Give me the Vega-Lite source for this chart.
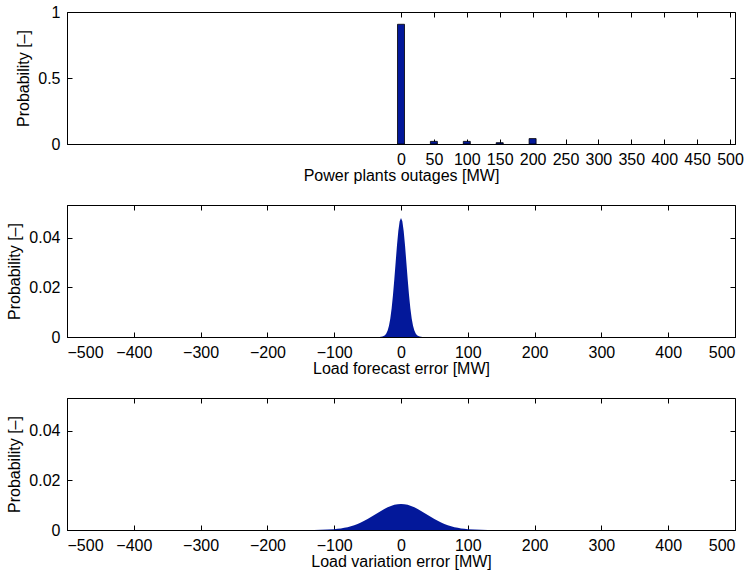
{
  "$schema": "https://vega.github.io/schema/vega-lite/v6.json",
  "padding": {"left": 6, "top": 3, "right": 8, "bottom": 5},
  "background": "white",
  "spacing": 61,
  "bounds": "flush",
  "config": {
    "font": "Liberation Sans",
    "view": {"stroke": "black", "strokeWidth": 1},
    "axis": {
      "grid": false,
      "domainColor": "black",
      "domainWidth": 1,
      "tickColor": "black",
      "tickSize": -5,
      "labelFont": "Liberation Sans",
      "labelFontSize": 16,
      "labelColor": "black",
      "labelOverlap": false,
      "titleFont": "Liberation Sans",
      "titleFontSize": 16,
      "titleFontWeight": "normal",
      "titleColor": "black",
      "labelPadding": 12,
      "titlePadding": 0
    },
    "axisLeft": {"titlePadding": 6}
  },
  "datasets": {
    "outages": [
      {"mw": 0, "p": 0.907},
      {"mw": 50, "p": 0.02},
      {"mw": 100, "p": 0.02},
      {"mw": 150, "p": 0.01},
      {"mw": 200, "p": 0.041}
    ],
    "forecast": [
      {"mw": -500, "p": 0},
      {"mw": -34, "p": 0},
      {"mw": -32, "p": 0.00003},
      {"mw": -30, "p": 0.00007},
      {"mw": -28, "p": 0.00016},
      {"mw": -26, "p": 0.00036},
      {"mw": -24, "p": 0.00073},
      {"mw": -22, "p": 0.00143},
      {"mw": -20, "p": 0.00263},
      {"mw": -18, "p": 0.00457},
      {"mw": -16, "p": 0.00749},
      {"mw": -14, "p": 0.01158},
      {"mw": -12, "p": 0.01688},
      {"mw": -10, "p": 0.02323},
      {"mw": -8, "p": 0.03017},
      {"mw": -6, "p": 0.03697},
      {"mw": -4, "p": 0.04274},
      {"mw": -2, "p": 0.04663},
      {"mw": 0, "p": 0.048},
      {"mw": 2, "p": 0.04663},
      {"mw": 4, "p": 0.04274},
      {"mw": 6, "p": 0.03697},
      {"mw": 8, "p": 0.03017},
      {"mw": 10, "p": 0.02323},
      {"mw": 12, "p": 0.01688},
      {"mw": 14, "p": 0.01158},
      {"mw": 16, "p": 0.00749},
      {"mw": 18, "p": 0.00457},
      {"mw": 20, "p": 0.00263},
      {"mw": 22, "p": 0.00143},
      {"mw": 24, "p": 0.00073},
      {"mw": 26, "p": 0.00036},
      {"mw": 28, "p": 0.00016},
      {"mw": 30, "p": 0.00007},
      {"mw": 32, "p": 0.00003},
      {"mw": 34, "p": 0},
      {"mw": 500, "p": 0}
    ],
    "variation": [
      {"mw": -500, "p": 0},
      {"mw": -150, "p": 0},
      {"mw": -130, "p": 0.00003},
      {"mw": -120, "p": 0.00007},
      {"mw": -110, "p": 0.00016},
      {"mw": -100, "p": 0.00033},
      {"mw": -95, "p": 0.00046},
      {"mw": -90, "p": 0.00064},
      {"mw": -85, "p": 0.00086},
      {"mw": -80, "p": 0.00114},
      {"mw": -75, "p": 0.0015},
      {"mw": -70, "p": 0.00192},
      {"mw": -65, "p": 0.00243},
      {"mw": -60, "p": 0.00302},
      {"mw": -55, "p": 0.00368},
      {"mw": -50, "p": 0.00442},
      {"mw": -45, "p": 0.00521},
      {"mw": -40, "p": 0.00603},
      {"mw": -35, "p": 0.00687},
      {"mw": -30, "p": 0.00769},
      {"mw": -25, "p": 0.00846},
      {"mw": -20, "p": 0.00914},
      {"mw": -15, "p": 0.00971},
      {"mw": -10, "p": 0.01014},
      {"mw": -5, "p": 0.01041},
      {"mw": 0, "p": 0.0105},
      {"mw": 5, "p": 0.01041},
      {"mw": 10, "p": 0.01014},
      {"mw": 15, "p": 0.00971},
      {"mw": 20, "p": 0.00914},
      {"mw": 25, "p": 0.00846},
      {"mw": 30, "p": 0.00769},
      {"mw": 35, "p": 0.00687},
      {"mw": 40, "p": 0.00603},
      {"mw": 45, "p": 0.00521},
      {"mw": 50, "p": 0.00442},
      {"mw": 55, "p": 0.00368},
      {"mw": 60, "p": 0.00302},
      {"mw": 65, "p": 0.00243},
      {"mw": 70, "p": 0.00192},
      {"mw": 75, "p": 0.0015},
      {"mw": 80, "p": 0.00114},
      {"mw": 85, "p": 0.00086},
      {"mw": 90, "p": 0.00064},
      {"mw": 95, "p": 0.00046},
      {"mw": 100, "p": 0.00033},
      {"mw": 110, "p": 0.00016},
      {"mw": 120, "p": 0.00007},
      {"mw": 130, "p": 0.00003},
      {"mw": 150, "p": 0},
      {"mw": 500, "p": 0}
    ]
  },
  "vconcat": [
    {
      "width": 668,
      "height": 132,
      "data": {"name": "outages"},
      "resolve": {"axis": {"x": "independent", "y": "independent"}},
      "layer": [
        {
          "mark": {"type": "bar", "width": 7, "color": "#03189A", "stroke": "black", "strokeWidth": 0.8},
          "encoding": {
            "x": {"field": "mw", "type": "quantitative", "scale": {"domain": [-500, 500], "nice": false, "zero": false},
              "axis": {"orient": "bottom", "values": [0, 50, 100, 150, 200, 250, 300, 350, 400, 450, 500], "title": "Power plants outages [MW]", "format": "d"}},
            "y": {"field": "p", "type": "quantitative", "scale": {"domain": [0, 1], "nice": false},
              "axis": {"orient": "left", "values": [0, 0.5, 1], "title": "Probability [–]", "format": "~f"}}
          }
        },
        {
          "mark": {"type": "point", "opacity": 0},
          "encoding": {
            "x": {"field": "mw", "type": "quantitative",
              "axis": {"orient": "top", "values": [0, 50, 100, 150, 200, 250, 300, 350, 400, 450, 500], "labels": false, "title": null, "domain": false}},
            "y": {"field": "p", "type": "quantitative",
              "axis": {"orient": "right", "values": [0, 0.5, 1], "labels": false, "title": null, "domain": false}}
          }
        }
      ]
    },
    {
      "width": 668,
      "height": 132,
      "data": {"name": "forecast"},
      "resolve": {"axis": {"x": "independent", "y": "independent"}},
      "layer": [
        {
          "mark": {"type": "area", "color": "#03189A", "line": false, "interpolate": "linear"},
          "encoding": {
            "x": {"field": "mw", "type": "quantitative", "scale": {"domain": [-500, 500], "nice": false, "zero": false},
              "axis": {"orient": "bottom", "values": [-500, -400, -300, -200, -100, 0, 100, 200, 300, 400, 500], "title": "Load forecast error [MW]", "format": "d"}},
            "y": {"field": "p", "type": "quantitative", "scale": {"domain": [0, 0.0532], "nice": false},
              "axis": {"orient": "left", "values": [0, 0.02, 0.04], "title": "Probability [–]", "format": "~f"}}
          }
        },
        {
          "mark": {"type": "point", "opacity": 0},
          "encoding": {
            "x": {"field": "mw", "type": "quantitative",
              "axis": {"orient": "top", "values": [-500, -400, -300, -200, -100, 0, 100, 200, 300, 400, 500], "labels": false, "title": null, "domain": false}},
            "y": {"field": "p", "type": "quantitative",
              "axis": {"orient": "right", "values": [0, 0.02, 0.04], "labels": false, "title": null, "domain": false}}
          }
        }
      ]
    },
    {
      "width": 668,
      "height": 132,
      "data": {"name": "variation"},
      "resolve": {"axis": {"x": "independent", "y": "independent"}},
      "layer": [
        {
          "mark": {"type": "area", "color": "#03189A", "line": false, "interpolate": "linear"},
          "encoding": {
            "x": {"field": "mw", "type": "quantitative", "scale": {"domain": [-500, 500], "nice": false, "zero": false},
              "axis": {"orient": "bottom", "values": [-500, -400, -300, -200, -100, 0, 100, 200, 300, 400, 500], "title": "Load variation error [MW]", "format": "d"}},
            "y": {"field": "p", "type": "quantitative", "scale": {"domain": [0, 0.0532], "nice": false},
              "axis": {"orient": "left", "values": [0, 0.02, 0.04], "title": "Probability [–]", "format": "~f"}}
          }
        },
        {
          "mark": {"type": "point", "opacity": 0},
          "encoding": {
            "x": {"field": "mw", "type": "quantitative",
              "axis": {"orient": "top", "values": [-500, -400, -300, -200, -100, 0, 100, 200, 300, 400, 500], "labels": false, "title": null, "domain": false}},
            "y": {"field": "p", "type": "quantitative",
              "axis": {"orient": "right", "values": [0, 0.02, 0.04], "labels": false, "title": null, "domain": false}}
          }
        }
      ]
    }
  ]
}
